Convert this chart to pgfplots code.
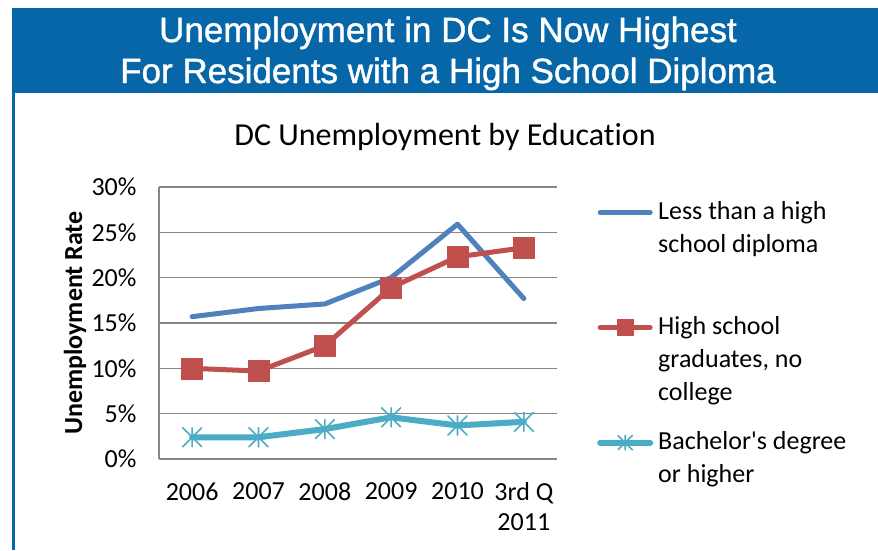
\documentclass[border=0pt]{standalone}
\usepackage{fontspec}
\setmainfont{Carlito}[Ligatures=CommonOff]
\newfontfamily\plaincal{Carlito}
\newfontfamily\bannerfont[FakeBold=1.2]{Liberation Sans}
\usepackage{pgfplots}
\pgfplotsset{compat=1.18}
\definecolor{banner}{RGB}{6,102,168}
\definecolor{sblue}{RGB}{79,129,189}
\definecolor{sred}{RGB}{192,80,77}
\definecolor{steal}{RGB}{75,172,198}
\definecolor{gridgray}{RGB}{134,134,134}
\pgfdeclareplotmark{xstar}{%
  \pgfpathmoveto{\pgfpoint{0pt}{\pgfplotmarksize}}%
  \pgfpathlineto{\pgfpoint{0pt}{-\pgfplotmarksize}}%
  \pgfpathmoveto{\pgfpoint{-\pgfplotmarksize}{\pgfplotmarksize}}%
  \pgfpathlineto{\pgfpoint{\pgfplotmarksize}{-\pgfplotmarksize}}%
  \pgfpathmoveto{\pgfpoint{-\pgfplotmarksize}{-\pgfplotmarksize}}%
  \pgfpathlineto{\pgfpoint{\pgfplotmarksize}{\pgfplotmarksize}}%
  \pgfusepathqstroke}
\begin{document}
\begin{tikzpicture}
\useasboundingbox (0pt,0pt) rectangle (878pt,-550pt);
\fill[white] (0pt,0pt) rectangle (878pt,-550pt);
\fill[banner] (12pt,-8pt) rectangle (878pt,-93pt);
\fill[banner] (12pt,-8pt) rectangle (14.7pt,-550pt);
\node[font=\bannerfont\fontsize{35}{41}\selectfont, text=white, anchor=base, inner sep=0pt] at (448pt,-42pt) {Unemployment in DC Is Now Highest};
\node[font=\bannerfont\fontsize{35}{41}\selectfont, text=white, anchor=base, inner sep=0pt] at (448pt,-83pt) {For Residents with a High School Diploma};
\node[font=\fontsize{32}{38}\selectfont, anchor=base, inner sep=0pt] at (445pt,-145pt) {DC Unemployment by Education};
\begin{axis}[
  at={(159pt,-459pt)}, anchor=south west,
  scale only axis, width=398pt, height=272pt,
  xmin=-0.5, xmax=5.5, ymin=0, ymax=30,
  xtick={0,1,2,3,4,5},
  xticklabels={2006,2007,2008,2009,2010,{3rd Q\\2011}},
  ytick={0,5,10,15,20,25,30},
  /pgf/number format/assume math mode=true,
  yticklabel={\pgfmathprintnumber{\tick}\%},
  axis x line*=bottom, axis y line*=left,
  axis line style={gridgray, line width=1.3pt, -},
  ymajorgrids, grid style={gridgray, line width=1.3pt},
  major tick length=0pt,
  tick label style={font=\fontsize{26}{30}\selectfont},
  xticklabel style={align=center, yshift=-20pt},
  yticklabel style={xshift=-19pt},
  ylabel={Unemployment Rate},
  ylabel style={font=\bfseries\fontsize{26}{30}\selectfont, at={(axis description cs:-0.211,0.5)}, anchor=center},
  legend style={draw=none, fill=none, at={(1.1005,0.955)}, anchor=north west, inner sep=0pt, row sep=33pt, column sep=3pt, font=\fontsize{26}{33}\selectfont, cells={anchor=base west}, nodes={text depth=60pt}},
  legend image code/.code={\draw[mark repeat=2, mark phase=2, #1, /tikz/every mark/.append style={scale=0.75}] plot coordinates {(2.5pt,7pt) (27.5pt,7pt) (52.5pt,7pt)};},
]
\addplot[sblue, line width=5pt, line join=round, line cap=round, mark=none]
  coordinates {(0,15.7) (1,16.6) (2,17.1) (3,20.0) (4,25.9) (5,17.7)};
\addlegendentry{\parbox[t]{210pt}{Less than a high\\school diploma}}
\addplot[sred, line width=5pt, line join=round, line cap=round, mark=square*, mark size=10.5pt, mark options={solid, fill=sred, draw=sred, line width=0.5pt}]
  coordinates {(0,10.0) (1,9.7) (2,12.5) (3,18.9) (4,22.3) (5,23.3)};
\addlegendentry{\parbox[t]{210pt}{High school\\graduates, no\\college}}
\addplot[steal, line width=6pt, line join=round, line cap=round, mark=xstar, mark size=9.5pt, mark options={solid, draw=steal, line width=1.6pt}]
  coordinates {(0,2.4) (1,2.4) (2,3.3) (3,4.6) (4,3.7) (5,4.1)};
\addlegendentry{\parbox[t]{210pt}{Bachelor{\plaincal '}s degree\\or higher}}
\end{axis}
\end{tikzpicture}
\end{document}
